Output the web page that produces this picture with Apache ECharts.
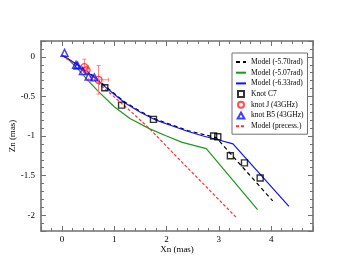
<!DOCTYPE html>
<html><head><meta charset="utf-8">
<script src="https://cdn.jsdelivr.net/npm/echarts@6/dist/echarts.min.js"></script>
<style>html,body{margin:0;padding:0;background:#fff}#c{width:353px;height:273px}</style>
</head><body><div id="c"></div>
<script>
// Model curves (Xn, Zn in mas)
const model570 = [[0,0.02],[0.3,-0.1],[0.6,-0.24],[0.9,-0.41],[1.2,-0.57],[1.5,-0.69],[1.8,-0.79],[2.1,-0.86],[2.4,-0.93],[2.7,-0.98],[2.95,-1.02],[4.03,-1.82]];
const model507 = [[0.05,0.02],[0.3,-0.15],[0.5,-0.3],[0.7,-0.44],[1.0,-0.63],[1.3,-0.78],[1.68,-0.91],[2.0,-1.0],[2.3,-1.08],[2.76,-1.16],[3.74,-1.93]];
const model633 = [[0,0.02],[0.3,-0.1],[0.6,-0.25],[0.9,-0.42],[1.2,-0.58],[1.5,-0.7],[1.8,-0.8],[2.1,-0.87],[2.4,-0.94],[2.7,-1.0],[3.0,-1.05],[3.27,-1.1],[4.34,-1.89]];
const modelPrec = [[0,0.02],[0.5,-0.22],[0.92,-0.46],[1.3,-0.68],[1.68,-0.91],[2.22,-1.28],[3.35,-2.04]];
// Knots
const knotC7 = [[0.82,-0.39],[1.14,-0.61],[1.75,-0.79],[2.9,-1.0],[2.98,-1.01],[3.22,-1.25],[3.49,-1.34],[3.79,-1.53]];
const knotJ = [[0.43,-0.13],[0.47,-0.17],[0.7,-0.29]];
const knotJxErr = [0.08,0.03,0.19];
const knotJyErr = [0.1,0.03,0.18];
const knotB5 = [[0.05,0.05],[0.27,-0.1],[0.3,-0.11],[0.4,-0.18],[0.51,-0.25],[0.62,-0.26]];

const serif = 'Liberation Serif';
const axisCol = '#707070';
function baseX(pos, labels){
  return {type:'value', position:pos, min:-0.4, max:4.8, minInterval:1, maxInterval:1, splitNumber:5,
    axisLine:{show:true, onZero:false, lineStyle:{color:axisCol, width:1.6}},
    axisTick:{show:true, inside:true, length:5, lineStyle:{color:axisCol, width:1}},
    minorTick:{show:true, splitNumber:5, length:3, lineStyle:{color:axisCol, width:1}},
    splitLine:{show:false},
    axisLabel:{show:labels, showMinLabel:false, showMaxLabel:false, margin:4, fontFamily:serif, fontSize:9, color:'#000'},
    name: labels ? 'Xn (mas)' : '', nameLocation:'middle', nameGap:14, nameMoveOverlap:false,
    nameTextStyle:{fontFamily:serif, fontSize:9, color:'#000'}};
}
function baseY(pos, labels){
  return {type:'value', position:pos, min:-2.2, max:0.2, minInterval:0.5, maxInterval:0.5, splitNumber:5,
    axisLine:{show:true, onZero:false, lineStyle:{color:axisCol, width:1.6}},
    axisTick:{show:true, inside:true, length:5, lineStyle:{color:axisCol, width:1}},
    minorTick:{show:true, splitNumber:5, length:3, lineStyle:{color:axisCol, width:1}},
    splitLine:{show:false},
    axisLabel:{show:labels, showMinLabel:false, showMaxLabel:false, margin:6, fontFamily:serif, fontSize:9, color:'#000'},
    name: labels ? 'Zn (mas)' : '', nameLocation:'middle', nameGap:24, nameMoveOverlap:false,
    nameTextStyle:{fontFamily:serif, fontSize:9, color:'#000'}};
}
function lineS(name, data, color, type, w){
  return {name:name, type:'line', data:data, showSymbol:false, symbol:'circle', smooth:false, z:2,
    lineStyle:{color:color, width:w||1.2, type:type}, itemStyle:{color:color}};
}
const hide = {opacity:0};
const errData = knotJ.map((p,i)=>[p[0],p[1],knotJxErr[i],knotJyErr[i]]);
const chart = echarts.init(document.getElementById('c'));
chart.setOption({
  animation:false,
  grid:{left:41, right:40, top:41, bottom:42, containLabel:false, outerBoundsMode:'none'},
  xAxis:[baseX('bottom', true), baseX('top', false)],
  yAxis:[baseY('left', true), baseY('right', false)],
  legend:{orient:'vertical', left:232, top:53, padding:[5,4,4,3], itemWidth:10, itemHeight:6, itemGap:2.7,
    borderColor:'#707070', borderWidth:1, backgroundColor:'#fff', borderRadius:0,
    textStyle:{fontFamily:serif, fontSize:7.5, color:'#000', lineHeight:6},
    data:[
      {name:'Model (-5.70rad)', itemStyle:hide},
      {name:'Model (-5.07rad)', itemStyle:hide},
      {name:'Model (-6.33rad)', itemStyle:hide},
      {name:'Knot C7', icon:'path://M0,0h10v10h-10z'},
      {name:'knot J (43GHz)', icon:'circle'},
      {name:'knot B5 (43GHz)', icon:'path://M5,0L10,9L0,9Z'},
      {name:'Model (precess.)', itemStyle:hide}
    ]},
  series:[
    lineS('Model (-5.70rad)', model570, '#000', [4,3], 1.2),
    lineS('Model (-5.07rad)', model507, '#1a9a1a', 'solid', 1.2),
    lineS('Model (-6.33rad)', model633, '#1010ff', 'solid', 1.2),
    {name:'Knot C7', type:'scatter', data:knotC7, symbol:'rect', symbolSize:6, z:5,
      itemStyle:{color:'rgba(0,0,0,0)', borderColor:'#000', borderWidth:1.4}},
    {name:'jerr', type:'custom', data:errData, z:3,
      renderItem:function(params, api){
        const x=api.value(0), y=api.value(1), ex=api.value(2), ey=api.value(3);
        const l=api.coord([x-ex,y]), r=api.coord([x+ex,y]), t=api.coord([x,y+ey]), b=api.coord([x,y-ey]);
        const st={stroke:'#ff8080', lineWidth:1};
        return {type:'group', children:[
          {type:'line', shape:{x1:l[0],y1:l[1],x2:r[0],y2:r[1]}, style:st},
          {type:'line', shape:{x1:t[0],y1:t[1],x2:b[0],y2:b[1]}, style:st},
          {type:'line', shape:{x1:l[0],y1:l[1]-2,x2:l[0],y2:l[1]+2}, style:st},
          {type:'line', shape:{x1:r[0],y1:r[1]-2,x2:r[0],y2:r[1]+2}, style:st},
          {type:'line', shape:{x1:t[0]-2,y1:t[1],x2:t[0]+2,y2:t[1]}, style:st},
          {type:'line', shape:{x1:b[0]-2,y1:b[1],x2:b[0]+2,y2:b[1]}, style:st}
        ]};
      }},
    {name:'knot J (43GHz)', type:'scatter', data:knotJ, symbol:'circle', symbolSize:7, z:4,
      itemStyle:{color:'rgba(0,0,0,0)', borderColor:'#ff2020', borderWidth:1.3}},
    {name:'knot B5 (43GHz)', type:'scatter', data:knotB5, symbol:'triangle', symbolSize:7, z:4,
      itemStyle:{color:'rgba(0,0,0,0)', borderColor:'#1010ff', borderWidth:1.4}},
    lineS('Model (precess.)', modelPrec, '#ff3030', [3,2], 1.2)
  ]
});
</script></body></html>
